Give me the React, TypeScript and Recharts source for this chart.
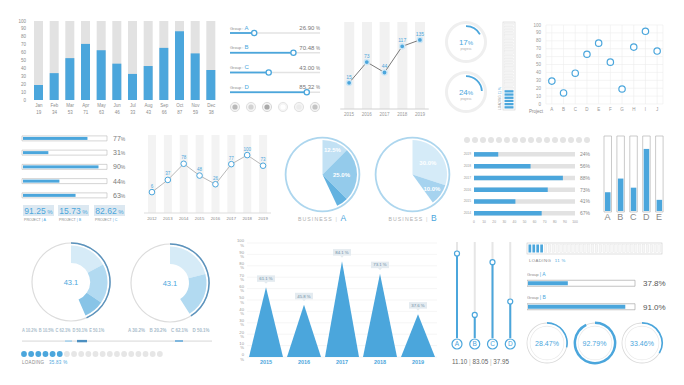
import React from 'react';
import {
  BarChart, Bar, XAxis, YAxis, Line, ComposedChart, ScatterChart, Scatter,
  PieChart, Pie, Cell, CartesianGrid, LabelList,
} from 'recharts';

const BLUE = '#4ba6dc';
const TXT = '#8c8c8c';
const FONT = '"Liberation Sans", Arial, Helvetica, sans-serif';
const RAD = Math.PI / 180;

// ---------------- data ----------------
const months = ['Jan', 'Feb', 'Mar', 'Apr', 'May', 'Jun', 'Jul', 'Aug', 'Sep', 'Oct', 'Nov', 'Dec'];
const monthValues = [19, 34, 53, 71, 63, 46, 33, 43, 66, 87, 59, 38];
const pctTicks = [0, 10, 20, 30, 40, 50, 60, 70, 80, 90, 100];

const sliderGroups = ['A', 'B', 'C', 'D'];
const sliderValues = [26.9, 70.48, 43.0, 85.32];

const years5 = ['2015', '2016', '2017', '2018', '2019'];
const years5Values = [15, 73, 44, 117, 135];

const ringValues = [17, 24];
const verticalLoading = 11;

const projects = ['A', 'B', 'C', 'D', 'E', 'F', 'G', 'H', 'I', 'J'];
const projectValues = [29, 14, 39, 63, 77, 53, 19, 72, 92, 67];

const progressKeys = ['p1', 'p2', 'p3', 'p4', 'p5'];
const progressValues = [77, 31, 90, 44, 63];
const projectNames = ['A', 'B', 'C'];
const projectPercents = ['91.25', '15.73', '82.62'];

const years8 = ['2012', '2013', '2014', '2015', '2016', '2017', '2018', '2019'];
const years8Values = [6, 37, 78, 48, 26, 77, 100, 73];

const businessA = [12.5, 25.0, 5.5];
const businessB = [30.0, 10.0];

const hbarYears = ['2019', '2018', '2017', '2016', '2015', '2014'];
const hbarValues = [24, 56, 88, 73, 41, 67];

const vbarCats = ['A', 'B', 'C', 'D', 'E'];
const vbarValues = [26, 44, 32, 83, 16];

const donut1 = [17, 17.5, 9];
const donut2 = [21, 20];
const donutCenter = '43.1';
const donut1Labels = ['A 10.2%', 'B 10.5%', 'C 62.1%', 'D 50.1%', 'E 50.1%'];
const donut2Labels = ['A 30.2%', 'B 20.2%', 'C 62.1%', 'D 50.1%'];
const loadingDotsTotal = 20;
const loadingDotsFilled = 6;
const loadingDotsText = '35.83';

const triYears = ['2015', '2016', '2017', '2018', '2019'];
const triValues = [61.1, 45.8, 84.1, 73.1, 37.6];

const vSliderCats = ['A', 'B', 'C', 'D'];
const vSliderValues = [88, 24, 79, 38];
const vSliderReadouts = ['11.10', '83.05', '37.95'];

const hLoadingSegments = 34;
const hLoadingFilled = 4;
const hLoadingPct = 11;

const groupNames = ['A', 'B'];
const groupValues = [37.8, 91.0];

const gaugeValues = [28.47, 92.79, 33.46];

// ---------------- helpers ----------------
const Abs = ({ x, y, w, h, children }: any) => (
  <div style={{ position: 'absolute', left: x, top: y, width: w, height: h }}>{children}</div>
);

const MonthTick = (p: any) => (
  <g>
    <text x={p.x} y={p.y + 6.5} textAnchor="middle" fontSize={4.5} fill={TXT}>{p.payload.value}</text>
    <text x={p.x} y={p.y + 13.5} textAnchor="middle" fontSize={4.5} fill={TXT}>{monthValues[p.index]}</text>
  </g>
);

const SliderTrack = (p: any) => (
  <rect x={p.x} y={p.y + p.height / 2 - 0.75} width={p.width} height={1.5} fill="#e3e3e3" />
);
const SliderShape = (p: any) => {
  const cy = p.y + p.height / 2;
  return (
    <g>
      <rect x={p.x} y={cy - 0.9} width={p.width} height={1.8} fill={BLUE} />
      <circle cx={p.x + p.width} cy={cy} r={2.6} fill="#fff" stroke={BLUE} strokeWidth={1.3} />
      <text x={p.x} y={cy - 3.5} fontSize={4} fill={TXT}>
        Group : <tspan fontSize={6} fill={BLUE}>{p.payload.g}</tspan>
      </text>
      <text x={95} y={cy - 3} textAnchor="end" fontSize={6} fill="#777">
        {p.payload.v.toFixed(2)} <tspan fontSize={4.5}>%</tspan>
      </text>
    </g>
  );
};

const ProgShape = (p: any) => (
  <g>
    <rect x={p.x + 1} y={p.y + 1} width={Math.max(p.width - 1, 0)} height={p.height - 2} fill={BLUE} />
    <text x={98} y={p.y + p.height / 2 + 2.5} fontSize={7} fill="#7a7a7a">
      {p.payload.v}<tspan fontSize={5}>%</tspan>
    </text>
  </g>
);

const VBarShape = (p: any) => (
  <rect x={p.x + 1} y={p.y} width={p.width - 2} height={Math.max(p.height - 1, 0)} fill={BLUE} />
);

const Triangle = (p: any) => (
  <path d={`M${p.x},${p.y + p.height} L${p.x + p.width / 2},${p.y} L${p.x + p.width},${p.y + p.height} Z`} fill={BLUE} />
);
const TriLabel = (p: any) => {
  const cx = p.x + p.width / 2;
  const y = p.y;
  return (
    <g>
      <rect x={cx - 9} y={y - 12} width={18} height={6.5} fill="#e4ebf0" />
      <path d={`M${cx - 2},${y - 5.6} L${cx},${y - 3.5} L${cx + 2},${y - 5.6} Z`} fill="#e4ebf0" />
      <text x={cx} y={y - 7.2} textAnchor="middle" fontSize={4.3} fill="#6f8ea6">{Number(p.value).toFixed(1)} %</text>
    </g>
  );
};

const VSliderTrack = (p: any) => (
  <rect x={p.x + p.width / 2 - 1} y={p.y} width={2} height={p.height} fill="#e6e6e6" />
);
const VSliderShape = (p: any) => {
  const cx = p.x + p.width / 2;
  const bottom = p.y + p.height;
  return (
    <g>
      <rect x={cx - 1} y={p.y} width={2} height={p.height} fill={BLUE} />
      <circle cx={cx} cy={p.y} r={2.5} fill="#fff" stroke={BLUE} strokeWidth={1.2} />
      <circle cx={cx} cy={bottom + 6} r={5} fill="#fff" stroke={BLUE} strokeWidth={1.2} />
      <text x={cx} y={bottom + 8.4} textAnchor="middle" fontSize={6.5} fill={BLUE}>{p.payload.k}</text>
    </g>
  );
};

const GroupShape = (p: any) => {
  const cy = p.y + p.height / 2;
  return (
    <g>
      <rect x={p.x + 1} y={p.y + 1} width={Math.max(p.width - 1, 0)} height={p.height - 2} fill={BLUE} />
      <text x={p.x} y={p.y - 4.5} fontSize={4.2} fill={TXT}>
        Group <tspan fill={BLUE} fontSize={5}>| {p.payload.g}</tspan>
      </text>
      <text x={116} y={cy + 3} fontSize={8} fill="#555">{p.payload.v.toFixed(1)}%</text>
    </g>
  );
};

const pieLabel = (labels: any[], radii: number[]) => (p: any) => {
  const i = p.index;
  if (labels[i] == null) return null;
  const r = radii[i];
  const x = p.cx + r * Math.cos(-p.midAngle * RAD);
  const y = p.cy + r * Math.sin(-p.midAngle * RAD);
  return (
    <text x={x} y={y + 2} textAnchor="middle" fontSize={6} fontWeight="bold" fill="#fff">{labels[i]}</text>
  );
};

const ProgressRing = ({ cx, cy, value }: any) => (
  <Abs x={cx - 25} y={cy - 25} w={50} h={50}>
    <PieChart width={50} height={50}>
      <Pie data={[{ v: 1 }]} dataKey="v" innerRadius={18} outerRadius={21} fill="#efefef" stroke="none" isAnimationActive={false} />
      <Pie data={[{ v: value }, { v: 100 - value }]} dataKey="v" startAngle={90} endAngle={-270}
        innerRadius={15} outerRadius={16.8} stroke="none" isAnimationActive={false}>
        <Cell fill={BLUE} />
        <Cell fill="transparent" />
      </Pie>
    </PieChart>
  </Abs>
);

const BusinessPie = ({ cx, cy, values, fills, radii }: any) => {
  const total = values.reduce((a: number, b: number) => a + b, 0);
  const data = [...values.map((v: number) => ({ v })), { v: 100 - total }];
  const labels = [...values.map((v: number) => (v >= 10 ? v.toFixed(1) + '%' : null)), null];
  return (
    <Abs x={cx - 42.5} y={cy - 42.5} w={85} h={85}>
      <PieChart width={85} height={85}>
        <Pie data={[{ v: 1 }]} dataKey="v" innerRadius={36} outerRadius={37.8} fill="#add6ee" stroke="none" isAnimationActive={false} />
        <Pie data={data} dataKey="v" startAngle={90} endAngle={-270} innerRadius={0} outerRadius={34.5}
          stroke="none" isAnimationActive={false} labelLine={false} label={pieLabel(labels, radii)}>
          {data.map((_: any, i: number) => <Cell key={i} fill={i < values.length ? fills[i] : 'transparent'} />)}
        </Pie>
      </PieChart>
    </Abs>
  );
};

const Donut = ({ cx, cy, values, fills }: any) => {
  const total = values.reduce((a: number, b: number) => a + b, 0);
  const data = [...values.map((v: number) => ({ v })), { v: 100 - total }];
  return (
    <Abs x={cx - 42} y={cy - 42} w={84} h={84}>
      <PieChart width={84} height={84}>
        <Pie data={[{ v: 1 }]} dataKey="v" innerRadius={38.4} outerRadius={39.6} fill="#dcdcdc" stroke="none" isAnimationActive={false} />
        <Pie data={[{ v: total }, { v: 100 - total }]} dataKey="v" startAngle={90} endAngle={-270}
          innerRadius={38.3} outerRadius={39.8} stroke="none" isAnimationActive={false}>
          <Cell fill="#5b93bd" />
          <Cell fill="transparent" />
        </Pie>
        <Pie data={data} dataKey="v" startAngle={90} endAngle={-270} innerRadius={19} outerRadius={36.5}
          stroke="none" isAnimationActive={false}>
          {data.map((_: any, i: number) => <Cell key={i} fill={i < values.length ? fills[i] : 'transparent'} />)}
        </Pie>
      </PieChart>
    </Abs>
  );
};

const Gauge = ({ cx, cy, value, thick }: any) => (
  <Abs x={cx - 24} y={cy - 24} w={48} h={48}>
    <PieChart width={48} height={48}>
      <Pie data={[{ v: 1 }]} dataKey="v" innerRadius={16.6} outerRadius={17.2} fill="#e6e6e6" stroke="none" isAnimationActive={false} />
      <Pie data={[{ v: 1 }]} dataKey="v" innerRadius={19.6} outerRadius={20.4} fill="#d9d9d9" stroke="none" isAnimationActive={false} />
      <Pie data={[{ v: value }, { v: 100 - value }]} dataKey="v" startAngle={90} endAngle={-270}
        innerRadius={thick ? 18.9 : 19.3} outerRadius={thick ? 21.4 : 20.9} stroke="none" isAnimationActive={false}>
        <Cell fill={BLUE} />
        <Cell fill="transparent" />
      </Pie>
    </PieChart>
  </Abs>
);

// ---------------- tables ----------------
const monthData = months.map((m, i) => ({ m, v: monthValues[i] }));
const sliderData = sliderGroups.map((g, i) => ({ g, v: sliderValues[i] }));
const trend5 = years5.map((y, i) => ({ y, v: years5Values[i] }));
const scatterData = projects.map((p, i) => ({ p, v: projectValues[i] }));
const progData = progressKeys.map((k, i) => ({ k, v: progressValues[i] }));
const trend8 = years8.map((y, i) => ({ y, v: years8Values[i] }));
const hbarData = hbarYears.map((y, i) => ({ y, v: hbarValues[i] }));
const vbarData = vbarCats.map((c, i) => ({ c, v: vbarValues[i] }));
const triData = triYears.map((y, i) => ({ y, v: triValues[i] }));
const vSliderData = vSliderCats.map((k, i) => ({ k, v: vSliderValues[i] }));
const groupData = groupNames.map((g, i) => ({ g, v: groupValues[i] }));

const dotStyles = [
  { ring: '#d3d3d3', core: '#b9b9b9' },
  { ring: '#d8d8d8', core: '#d2d2d2' },
  { ring: '#cfcfcf', core: '#a9a9a9' },
  { ring: '#e0e0e0', core: '#ffffff' },
  { ring: '#dadada', core: '#ececec' },
  { ring: '#d0d0d0', core: '#c4c4c4' },
];

const smallTick = { fontSize: 4.5, fill: '#999' };

export default function App() {
  return (
    <div style={{ position: 'absolute', left: 0, top: 0, width: 684, height: 385, overflow: 'hidden', background: '#fff', fontFamily: FONT }}>
      {/* monthly bars */}
      <Abs x={0} y={0} w={225} h={125}>
        <BarChart width={225} height={125} data={monthData} margin={{ top: 21, right: 6, bottom: 0, left: 8 }}>
          <XAxis dataKey="m" height={25} tickLine={false} axisLine={false} tickSize={0} tickMargin={0} interval={0} tick={MonthTick} />
          <YAxis width={23} domain={[0, 100]} ticks={pctTicks} interval={0} tickLine={false} axisLine={false} tickSize={0} tickMargin={5} tick={{ fontSize: 4.5, fill: TXT }} />
          <Bar dataKey="v" barSize={9} fill={BLUE} background={{ fill: '#e2e2e2' }} isAnimationActive={false} />
        </BarChart>
      </Abs>

      {/* sliders */}
      <Abs x={225} y={0} w={100} h={120}>
        <BarChart layout="vertical" width={100} height={120} data={sliderData} margin={{ top: 23, right: 5, bottom: 18, left: 5 }}>
          <XAxis type="number" domain={[0, 100]} hide />
          <YAxis type="category" dataKey="g" hide />
          <Bar dataKey="v" barSize={2} isAnimationActive={false} background={SliderTrack} shape={SliderShape} />
        </BarChart>
      </Abs>

      {/* line 2015-2019 */}
      <Abs x={330} y={0} w={110} h={125}>
        <ComposedChart width={110} height={125} data={trend5} margin={{ top: 22, right: 11.25, bottom: 0, left: 10.25 }}>
          <XAxis dataKey="y" height={16} tickLine={false} tickSize={0} tickMargin={4} axisLine={{ stroke: '#d0d0d0' }} tick={smallTick} interval={0} />
          <YAxis hide domain={[-58, 185]} />
          <Bar dataKey="v" barSize={10} fill="none" background={{ fill: '#f1f1f1' }} isAnimationActive={false} />
          <Line dataKey="v" stroke="#7a7a7a" strokeWidth={1} isAnimationActive={false}
            dot={(p: any) => <circle key={p.index} cx={p.cx} cy={p.cy} r={2.6} fill={BLUE} stroke="#cfe7f6" strokeWidth={1.4} />}>
            <LabelList dataKey="v" position="top" offset={4} fontSize={5} fill={BLUE} />
          </Line>
        </ComposedChart>
      </Abs>

      {/* progress rings */}
      {ringValues.map((v, i) => <ProgressRing key={i} cx={466} cy={42 + i * 50} value={v} />)}

      {/* scatter */}
      <Abs x={520} y={15} w={164} h={105}>
        <ScatterChart width={164} height={105} margin={{ top: 10, right: 21, bottom: 4, left: 6 }}>
          <CartesianGrid stroke="#ededed" strokeWidth={0.6} />
          <XAxis dataKey="p" type="category" allowDuplicatedCategory={false} height={12} tickLine={false} axisLine={false} tickSize={0} tickMargin={4} tick={smallTick} interval={0} />
          <YAxis dataKey="v" type="number" domain={[0, 100]} ticks={pctTicks} interval={0} width={20} tickLine={false} axisLine={false} tickSize={0} tickMargin={5} tick={smallTick} />
          <Scatter data={scatterData} isAnimationActive={false}
            shape={(p: any) => <circle cx={p.cx} cy={p.cy} r={3.2} fill="#fff" stroke={BLUE} strokeWidth={1.2} />} />
        </ScatterChart>
      </Abs>

      {/* progress bars row 2 */}
      <Abs x={15} y={125} w={125} h={85}>
        <BarChart layout="vertical" width={125} height={85} data={progData} margin={{ top: 5.9, right: 33, bottom: 7.9, left: 7 }}>
          <XAxis type="number" domain={[0, 100]} hide />
          <YAxis type="category" dataKey="k" hide />
          <Bar dataKey="v" barSize={5} isAnimationActive={false} background={{ fill: '#fff', stroke: '#b9b9b9', strokeWidth: 0.6 }} shape={ProgShape} />
        </BarChart>
      </Abs>

      {/* line 2012-2019 */}
      <Abs x={135} y={125} w={145} h={100}>
        <ComposedChart width={145} height={100} data={trend8} margin={{ top: 10, right: 9, bottom: 0, left: 9 }}>
          <XAxis dataKey="y" height={12} tickLine={false} tickSize={0} tickMargin={4} axisLine={{ stroke: '#dddddd' }} tick={{ fontSize: 4.3, fill: '#888' }} interval={0} />
          <YAxis hide domain={[-47, 151]} />
          <Bar dataKey="v" barSize={8} fill="none" background={{ fill: '#f3f3f3' }} isAnimationActive={false} />
          <Line dataKey="v" stroke="#b0b0b0" strokeWidth={0.9} isAnimationActive={false}
            dot={(p: any) => <circle key={p.index} cx={p.cx} cy={p.cy} r={2.8} fill="#fff" stroke={BLUE} strokeWidth={1} />}>
            <LabelList dataKey="v" position="top" offset={4.5} fontSize={4.5} fill={BLUE} />
          </Line>
        </ComposedChart>
      </Abs>

      {/* business pies */}
      <BusinessPie cx={322} cy={174.5} values={businessA} fills={['#c2e1f4', '#94cbeb', '#63b2e0']} radii={[26, 19, 22]} />
      <BusinessPie cx={412.5} cy={174.5} values={businessB} fills={['#d5ebf8', '#a6d3ef']} radii={[19, 24]} />

      {/* horizontal bars with years */}
      <Abs x={455} y={140} w={140} h={90}>
        <BarChart layout="vertical" width={140} height={90} data={hbarData} margin={{ top: 8.1, right: 20, bottom: 1.1, left: 0 }}>
          <XAxis type="number" domain={[0, 100]} ticks={pctTicks} interval={0} height={10} tickLine={false} axisLine={false} tickSize={0} tickMargin={1.5} tick={{ fontSize: 3.3, fill: '#999' }} />
          <YAxis type="category" dataKey="y" width={19} tickLine={false} axisLine={false} tickSize={0} tickMargin={3} tick={{ fontSize: 3.3, fill: '#999' }} interval={0} />
          <Bar dataKey="v" barSize={4.5} fill={BLUE} background={{ fill: '#e2e2e2' }} isAnimationActive={false}>
            <LabelList dataKey="v" content={(p: any) => (
              <text x={125} y={p.y + p.height / 2 + 1.8} fontSize={5} fill="#888">{p.value}%</text>
            )} />
          </Bar>
        </BarChart>
      </Abs>

      {/* vertical bars A-E */}
      <Abs x={598} y={130} w={72} h={95}>
        <BarChart width={72} height={95} data={vbarData} margin={{ top: 6, right: 4.5, bottom: 0, left: 3 }}>
          <XAxis dataKey="c" height={13} tickLine={false} axisLine={false} tickSize={0} tickMargin={2} tick={{ fontSize: 9, fill: '#888' }} interval={0} />
          <YAxis hide domain={[0, 100]} />
          <Bar dataKey="v" barSize={7.5} isAnimationActive={false} background={{ fill: '#fff', stroke: '#b5b5b5', strokeWidth: 0.7 }} shape={VBarShape} />
        </BarChart>
      </Abs>

      {/* donuts */}
      <Donut cx={71} cy={282} values={donut1} fills={['#d6ebf7', '#b2daf1', '#88c4e7']} />
      <Donut cx={170} cy={283} values={donut2} fills={['#d6ebf7', '#b2daf1']} />

      {/* triangle chart */}
      <Abs x={225} y={238} w={215} h={130}>
        <BarChart width={215} height={130} data={triData} margin={{ top: 5, right: 3, bottom: 0, left: 0 }}>
          <CartesianGrid stroke="#efefef" strokeWidth={0.6} vertical={false} />
          <XAxis dataKey="y" height={11} tickLine={false} axisLine={false} tickSize={0} tickMargin={3} tick={{ fontSize: 5.5, fill: BLUE, fontWeight: 'bold' }} interval={0} />
          <YAxis width={22} domain={[0, 100]} ticks={pctTicks} interval={0} tickLine={false} axisLine={false} tickSize={0} tickMargin={3} tick={{ fontSize: 4.2, fill: '#999' }} tickFormatter={(v: number) => `${v} %`} />
          <Bar dataKey="v" barSize={34} shape={Triangle} isAnimationActive={false}>
            <LabelList dataKey="v" content={TriLabel} />
          </Bar>
        </BarChart>
      </Abs>

      {/* vertical sliders */}
      <Abs x={445} y={240} w={80} h={115}>
        <BarChart width={80} height={115} data={vSliderData} margin={{ top: 2, right: 6, bottom: 17, left: 3 }}>
          <XAxis dataKey="k" hide />
          <YAxis hide domain={[0, 100]} />
          <Bar dataKey="v" barSize={2} isAnimationActive={false} background={VSliderTrack} shape={VSliderShape} />
        </BarChart>
      </Abs>

      {/* group bars */}
      <Abs x={527} y={265} w={157} h={60}>
        <BarChart layout="vertical" width={157} height={60} data={groupData} margin={{ top: 6.25, right: 49, bottom: 6.75, left: 0 }}>
          <XAxis type="number" domain={[0, 100]} hide />
          <YAxis type="category" dataKey="g" hide />
          <Bar dataKey="v" barSize={6} isAnimationActive={false} background={{ fill: '#fff', stroke: '#9a9a9a', strokeWidth: 0.6 }} shape={GroupShape} />
        </BarChart>
      </Abs>

      {/* gauges */}
      {gaugeValues.map((v, i) => <Gauge key={i} cx={547 + i * 47.5} cy={343} value={v} thick={i === 1} />)}

      {/* overlay decorations & texts */}
      <svg width={684} height={385} style={{ position: 'absolute', left: 0, top: 0, pointerEvents: 'none', fontFamily: FONT }}>
        {/* slider circles row */}
        {dotStyles.map((s, i) => (
          <g key={i}>
            <circle cx={235 + i * 16} cy={107} r={4.6} fill="#f4f4f4" stroke={s.ring} strokeWidth={0.8} />
            <circle cx={235 + i * 16} cy={107} r={2.6} fill={s.core} />
          </g>
        ))}

        {/* ring texts */}
        {ringValues.map((v, i) => (
          <g key={i}>
            <text x={466} y={45 + i * 50} textAnchor="middle" fontSize={8} fill={BLUE}>{v}<tspan fontSize={6}>%</tspan></text>
            <text x={466} y={49.5 + i * 50} textAnchor="middle" fontSize={2.8} fill="#aaa">progress</text>
          </g>
        ))}

        {/* vertical loading bar */}
        <rect x={503} y={22} width={12} height={88} fill="#fff" stroke="#d0d0d0" strokeWidth={0.6} />
        {Array.from({ length: 27 }).map((_, i) => (
          <rect key={i} x={504.5} y={23 + i * 3.2} width={9} height={2.3}
            fill={i >= 27 - 6 ? BLUE : '#f4f4f4'} stroke={i >= 21 ? 'none' : '#dedede'} strokeWidth={0.3} />
        ))}
        <text transform="translate(500.5,110) rotate(-90)" fontSize={3.3} fill="#999">LOADING <tspan fill={BLUE}>{verticalLoading} %</tspan></text>

        {/* scatter axis label */}
        <text x={529} y={112.5} fontSize={4.5} fill="#888">Project</text>

        {/* project boxes */}
        {projectPercents.map((p, i) => {
          const x = [23, 58, 94][i];
          return (
            <g key={i}>
              <rect x={x} y={205} width={31} height={11} fill="#dce8f1" />
              <text x={x + 15.5} y={213.5} textAnchor="middle" fontSize={8.5} fill={BLUE}>{p}<tspan fontSize={6}> %</tspan></text>
              <text x={x + 1} y={221} fontSize={3.6} fill="#888">PROJECT <tspan fill={BLUE}>| {projectNames[i]}</tspan></text>
            </g>
          );
        })}

        {/* business labels */}
        {[['A', 322], ['B', 412.5]].map(([n, x]: any) => (
          <text key={n} x={x} y={221} textAnchor="middle" fontSize={5.2} letterSpacing={1.1} fill="#b0b0b0">
            BUSINESS <tspan fill="#c8c8c8">|</tspan> <tspan fontSize={8.5} fill={BLUE} letterSpacing={0}>{n}</tspan>
          </text>
        ))}

        {/* dots row above hbars */}
        {Array.from({ length: 16 }).map((_, i) => (
          <circle key={i} cx={467 + i * 8} cy={140} r={3} fill="#e4e4e4" />
        ))}

        {/* donut centers */}
        <text x={71} y={285} textAnchor="middle" fontSize={7.5} fill={BLUE}>{donutCenter}</text>
        <text x={170} y={286} textAnchor="middle" fontSize={7.5} fill={BLUE}>{donutCenter}</text>
        {donut1Labels.map((l, i) => (
          <text key={i} x={22 + i * 16.8} y={332} fontSize={4.8} fontWeight="bold" fill="#a9bccb"
            textLength={15} lengthAdjust="spacingAndGlyphs">{l}</text>
        ))}
        {donut2Labels.map((l, i) => (
          <text key={i} x={128 + i * 21.5} y={332} fontSize={4.8} fontWeight="bold" fill="#a9bccb"
            textLength={17} lengthAdjust="spacingAndGlyphs">{l}</text>
        ))}
        <rect x={22} y={340.5} width={190} height={1.2} fill="#dedede" />
        <rect x={65} y={340.3} width={7} height={1.6} fill="#a8d3ee" />
        <rect x={77} y={339.9} width={10} height={2.4} fill="#4b8fc0" />
        <rect x={175} y={340} width={8} height={2} fill="#7fb7de" />

        {/* loading dots */}
        {Array.from({ length: loadingDotsTotal }).map((_, i) => (
          <circle key={i} cx={24 + i * 7.15} cy={354} r={2.9} fill={i < loadingDotsFilled ? BLUE : '#e6e6e6'} />
        ))}
        <text x={22} y={364} fontSize={4.5} fill="#888" letterSpacing={0.3}>LOADING <tspan fill={BLUE} dx={3}>{loadingDotsText} %</tspan></text>

        {/* vertical slider readouts */}
        <text x={452} y={364} fontSize={6.3} fill="#666">
          {vSliderReadouts[0]} <tspan fill="#bbb">|</tspan> {vSliderReadouts[1]} <tspan fill="#bbb">|</tspan> {vSliderReadouts[2]}
        </text>

        {/* horizontal loading */}
        <rect x={527} y={243} width={135} height={11} fill="#fff" stroke="#c8c8c8" strokeWidth={0.6} />
        {Array.from({ length: hLoadingSegments }).map((_, i) => (
          <rect key={i} x={528.5 + i * 3.92} y={244.5} width={2.7} height={8}
            fill={i < hLoadingFilled ? BLUE : '#f6f6f6'} stroke={i < hLoadingFilled ? 'none' : '#dcdcdc'} strokeWidth={0.3} />
        ))}
        <text x={529} y={261.5} fontSize={4.3} fill="#888" letterSpacing={0.4}>LOADING <tspan fill={BLUE} dx={2}>{hLoadingPct} %</tspan></text>

        {/* gauge texts */}
        {gaugeValues.map((v, i) => (
          <text key={i} x={547 + i * 47.5} y={345.5} textAnchor="middle" fontSize={7} fill={BLUE}>{v.toFixed(2)}%</text>
        ))}
      </svg>
    </div>
  );
}
